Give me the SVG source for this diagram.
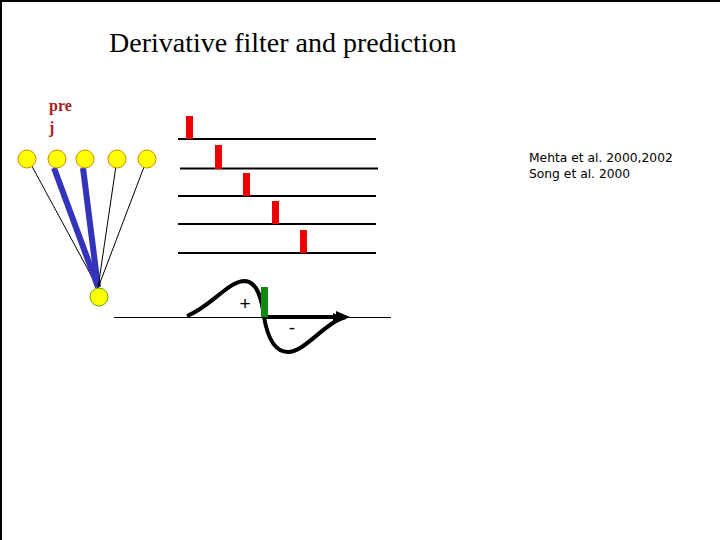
<svg xmlns="http://www.w3.org/2000/svg" width="720" height="540" viewBox="0 0 720 540">
<style>
.pre{fill:#ffff00;stroke:#cc8800;stroke-width:1}
.post{fill:#ffff00;stroke:#55aa00;stroke-width:1}
.thin{stroke:#000;stroke-width:1;fill:none}
.thick{stroke:#3333bb;stroke-width:6;fill:none}
.track{stroke:#000;stroke-width:2}
.spike{fill:#ee0000}
.lbl{font-family:"Liberation Serif",serif;font-weight:bold;font-size:16px;fill:#aa2020}
.cite{font-family:"DejaVu Sans","Liberation Sans",sans-serif;font-size:12.3px;fill:#000}
.sign{font-family:"Liberation Sans",sans-serif;font-size:19px;fill:#000}
</style>
<defs>
<marker id="ah" markerWidth="8" markerHeight="8" refX="7" refY="4" orient="auto" markerUnits="userSpaceOnUse">
<path d="M0,0 L8,4 L0,8 z" fill="#000"/>
</marker>
</defs>
<rect x="0" y="0" width="720" height="540" fill="#fff"/>
<line x1="0" y1="1" x2="720" y2="1" stroke="#000" stroke-width="2"/>
<line x1="1" y1="0" x2="1" y2="540" stroke="#000" stroke-width="2"/>
<text x="109" y="52" font-family="Liberation Serif,serif" font-size="28" fill="#000">Derivative filter and prediction</text>
<text class="lbl" x="49" y="111">pre</text>
<text class="lbl" x="49" y="133">j</text>
<g id="connectors">
<line class="thin" x1="28" y1="159" x2="98" y2="288"/>
<line class="thick" x1="54" y1="168" x2="98" y2="287"/>
<line class="thick" x1="83" y1="168" x2="98" y2="287"/>
<line class="thin" x1="117" y1="159" x2="98" y2="288"/>
<line class="thin" x1="147" y1="159" x2="98" y2="288"/>
</g>
<g id="n1"><circle class="pre" cx="27" cy="159" r="9"/></g>
<g id="n2"><circle class="pre" cx="57" cy="159" r="9"/></g>
<g id="n3"><circle class="pre" cx="85" cy="159" r="9"/></g>
<g id="n4"><circle class="pre" cx="117" cy="159" r="9"/></g>
<g id="n5"><circle class="pre" cx="147" cy="159" r="9"/></g>
<g id="post"><circle class="post" cx="99" cy="297" r="9"/></g>
<g id="spikes">
<line class="track" x1="178" y1="139" x2="376" y2="139"/>
<line class="track" x1="180" y1="168.5" x2="378" y2="168.5"/>
<line class="track" x1="178" y1="196" x2="376" y2="196"/>
<line class="track" x1="178" y1="224" x2="376" y2="224"/>
<line class="track" x1="178" y1="253" x2="376" y2="253"/>
<rect class="spike" x="186" y="116" width="7" height="23"/>
<rect class="spike" x="215" y="145" width="7" height="24"/>
<rect class="spike" x="243" y="173" width="7" height="23"/>
<rect class="spike" x="272" y="201" width="7" height="23"/>
<rect class="spike" x="300" y="230" width="7" height="23"/>
</g>
<g id="filter">
<line x1="114" y1="317.5" x2="391" y2="317.5" stroke="#000" stroke-width="1"/>
<path d="M187,316 C212,306 228,281 245,281 C258,282 262,300 264,317 C268,340 276,352 288,352 C305,352 325,322 346,317" fill="none" stroke="#000" stroke-width="4"/>
<line x1="264" y1="317" x2="340" y2="317" stroke="#000" stroke-width="4" marker-end="url(#ah)"/>
<path d="M336,311 L350,317 L336,322 z" fill="#000"/>
<rect x="261" y="287" width="7" height="30" fill="#118811"/>
<text class="sign" x="245" y="310" text-anchor="middle">+</text>
<text class="sign" x="292" y="334" text-anchor="middle">-</text>
</g>
<text class="cite" x="529" y="162">Mehta et al. 2000,2002</text>
<text class="cite" x="529" y="178">Song et al. 2000</text>
</svg>
